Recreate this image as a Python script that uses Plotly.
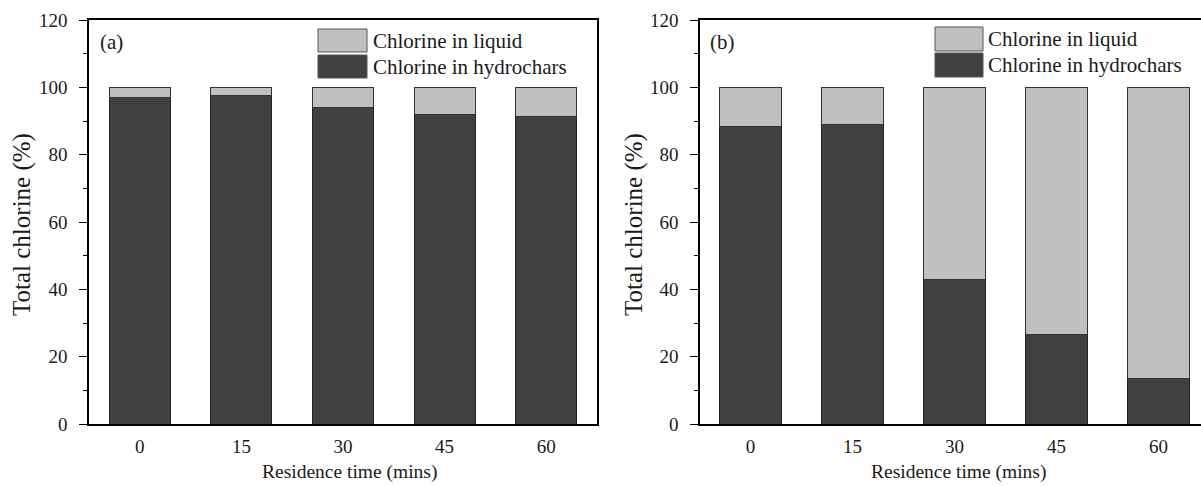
import plotly.graph_objects as go

categories = ["0", "15", "30", "45", "60"]
hydrochar_a = [97.0, 97.5, 94.0, 92.0, 91.2]
liquid_a = [100 - v for v in hydrochar_a]
hydrochar_b = [88.5, 89.0, 43.0, 26.5, 13.5]
liquid_b = [100 - v for v in hydrochar_b]
y_ticks = [0, 20, 40, 60, 80, 100, 120]

DARK = "#404040"
LIGHT = "#c0c0c0"
FONT = "Liberation Serif"
TXT = "#1a1a1a"
W, H = 1201, 486

def px(x):
    return x / W

def py(y):
    return 1 - y / H

fig = go.Figure()
for xa, ya, hyd, liq in [("x", "y", hydrochar_a, liquid_a), ("x2", "y2", hydrochar_b, liquid_b)]:
    fig.add_trace(go.Bar(x=categories, y=hyd, xaxis=xa, yaxis=ya, name="Chlorine in hydrochars",
                         marker=dict(color=DARK, line=dict(color="#222222", width=1)), showlegend=False))
    fig.add_trace(go.Bar(x=categories, y=liq, xaxis=xa, yaxis=ya, name="Chlorine in liquid",
                         marker=dict(color=LIGHT, line=dict(color="#333333", width=1)), showlegend=False))

axis_common = dict(showline=True, linecolor="black", linewidth=1.5, showgrid=False, zeroline=False,
                   automargin=False, tickfont=dict(family=FONT, size=19, color=TXT))
yaxis_common = dict(axis_common, range=[0, 120], tickvals=y_ticks, ticks="outside", ticklen=8,
                    tickwidth=1, tickcolor="black", ticklabelstandoff=8,
                    minor=dict(dtick=10, ticks="outside", ticklen=4, tickcolor="black", tickwidth=1))
xaxis_common = dict(axis_common, type="category", ticks="", mirror=True, ticklabelstandoff=4)

fig.update_layout(
    template="none",
    width=W, height=H, margin=dict(l=0, r=0, t=0, b=0, pad=0, autoexpand=False),
    plot_bgcolor="white", paper_bgcolor="white",
    barmode="stack", bargap=0.4, showlegend=False,
    xaxis=dict(xaxis_common, domain=[px(89), px(597)], range=[-0.5, 4.5], anchor="y"),
    yaxis=dict(yaxis_common, domain=[py(424), py(20)], mirror=True, anchor="x"),
    xaxis2=dict(xaxis_common, domain=[px(700), 1.0], range=[-0.495, 4.417], anchor="y2"),
    yaxis2=dict(yaxis_common, domain=[py(424), py(20)], mirror=False, anchor="x2"),
)

# legends (swatches + labels) and panel labels
shapes = []
annos = []
for sx0, sx1, ys, tx, lab, lx in [(318, 367, [(29, 52), (55, 78)], 371, "(a)", 98),
                                  (935, 983, [(27, 51), (53, 77)], 986, "(b)", 708)]:
    for (y0, y1), col, txt in zip(ys, [LIGHT, DARK], ["Chlorine in liquid", "Chlorine in hydrochars"]):
        shapes.append(dict(type="rect", xref="paper", yref="paper", x0=px(sx0), x1=px(sx1),
                           y0=py(y1), y1=py(y0), fillcolor=col, line=dict(color="#555", width=1)))
        annos.append(dict(xref="paper", yref="paper", x=px(tx), y=py((y0 + y1) / 2), text=txt,
                          showarrow=False, xanchor="left", yanchor="middle",
                          font=dict(family=FONT, size=21, color=TXT)))
    annos.append(dict(xref="paper", yref="paper", x=px(lx), y=py(42), text=lab, showarrow=False,
                      xanchor="left", yanchor="middle", font=dict(family=FONT, size=21, color=TXT)))

for ax_x in [22, 634]:
    annos.append(dict(xref="paper", yref="paper", x=px(ax_x), y=py(225), text="Total chlorine (%)",
                      showarrow=False, textangle=-90, xanchor="center", yanchor="middle",
                      font=dict(family=FONT, size=25, color=TXT)))
for cx in [(89 + 597) / 2 + 6, (700 + 1209) / 2 + 4]:
    annos.append(dict(xref="paper", yref="paper", x=px(cx), y=py(472), text="Residence time (mins)",
                      showarrow=False, xanchor="center", yanchor="middle",
                      font=dict(family=FONT, size=19.5, color=TXT)))

fig.update_layout(shapes=shapes, annotations=annos)
fig.write_html("out.html", config={"displayModeBar": False},
               post_script="document.body.style.margin='0';document.body.style.overflow='hidden';")
